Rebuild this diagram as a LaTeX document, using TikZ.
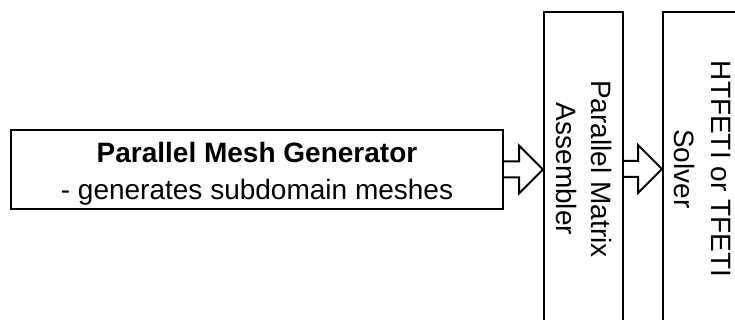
\documentclass[tikz,border=0pt]{standalone}
\usepackage{fontspec}
\setmainfont{Liberation Sans}
\usetikzlibrary{calc}
\tikzset{
  box/.style={draw, line width=2pt, align=center, inner sep=0pt},
  fat/.style={draw, line width=2pt, line join=miter},
}
% block arrow from #1 to the tip at #2
\newcommand{\fatarrow}[2]{%
\draw[fat] let \p1=(#1), \p2=(#2) in
  (\x1,\y1+8pt) -- (\x2-24pt,\y1+8pt) -- (\x2-24pt,\y1+24pt) -- (\x2,\y1)
  -- (\x2-24pt,\y1-24pt) -- (\x2-24pt,\y1-8pt) -- (\x1,\y1-8pt);}
\begin{document}
\begin{tikzpicture}[x=1pt,y=1pt]
\clip (0,0) rectangle (735,320);
\node[box, minimum width=492pt, minimum height=79pt,
  font=\fontsize{28}{37}\selectfont] (mesh) at (257,150.5)
  {\rule{0pt}{28pt}\textbf{Parallel Mesh Generator}\\- generates subdomain meshes};
% rotated boxes: south is the left side, north the right side
\node[box, rotate=-90, minimum width=314pt, minimum height=79pt,
  font=\fontsize{28}{35}\selectfont] (asm) at (583.5,151)
  {Parallel Matrix\\Assembler};
\node[box, rotate=-90, minimum width=314pt, minimum height=79pt,
  font=\fontsize{28}{37}\selectfont] (solver) at (702.5,151)
  {HTFETI or TFETI\\Solver};
\foreach \a/\b in {mesh.east/asm.south, asm.north/solver.south} % edit here for the arrows
\fatarrow{\a}{\b};
\end{tikzpicture}
\end{document}
